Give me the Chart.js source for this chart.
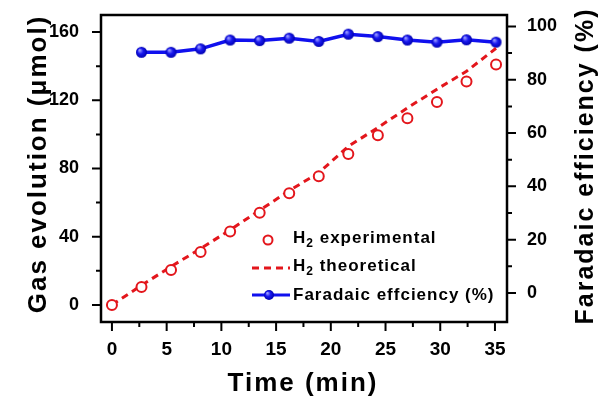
<!DOCTYPE html>
<html>
<head>
<meta charset="utf-8">
<script src="https://cdn.jsdelivr.net/npm/chart.js@4.4.1/dist/chart.umd.min.js"></script>
<style>
    body { margin: 0; background: #fff; }
    #wrap { width: 603px; height: 401px; }
</style>
</head>
<body>
<div id="wrap"><canvas id="c" width="603" height="401"></canvas></div>
<script>
// данные с картинки
const timeExp = [0, 2.7, 5.4, 8.1, 10.8, 13.5, 16.2, 18.9, 21.6, 24.3, 27, 29.7, 32.4, 35.1];
const h2Exp = [0, 10.5, 20.5, 31, 43, 54, 65.5, 75.5, 88.5, 99.5, 109.5, 119, 131, 141];
const h2Theo = [0, 11.5, 22.5, 33, 44, 55.5, 67, 77.5, 93, 104, 115.5, 126.5, 137, 150.5];
const timeFe = [2.7, 5.4, 8.1, 10.8, 13.5, 16.2, 18.9, 21.6, 24.3, 27, 29.7, 32.4, 35.1];
const feValues = [90.3, 90.3, 91.6, 94.9, 94.7, 95.6, 94.4, 97.1, 96.2, 94.9, 94.1, 95.0, 94.1];

const xTicks = [0, 5, 10, 15, 20, 25, 30, 35];
const xMinor = [2.5, 7.5, 12.5, 17.5, 22.5, 27.5, 32.5];
const leftTicks = [0, 40, 80, 120, 160];
const leftMinor = [20, 60, 100, 140];
const rightTicks = [0, 20, 40, 60, 80, 100];
const rightMinor = [10, 30, 50, 70, 90];

const labels = ["H₂ experimental", "H₂ theoretical", "Faradaic effciency (%)"];

const RED = "#e3161c";
const BLUE = "#1010ee";
const FONT = "'Liberation Sans', Arial, sans-serif";

const pts = (xs, ys) => xs.map((x, i) => ({x: x, y: ys[i]}));

// синий шарик для точек
const makeBall = (r) => {
    const c = document.createElement("canvas");
    c.width = c.height = r * 2 + 2;
    const g = c.getContext("2d");
    const m = r + 1;
    const grad = g.createRadialGradient(m - r * 0.35, m - r * 0.4, r * 0.1, m, m, r);
    grad.addColorStop(0, "#9a9aff");
    grad.addColorStop(0.45, "#1a1af0");
    grad.addColorStop(1, "#0000b0");
    g.fillStyle = grad;
    g.beginPath();
    g.arc(m, m, r, 0, Math.PI * 2);
    g.fill();
    return c;
};
const ball = makeBall(5.5);
const ballSmall = makeBall(5);

// подпись оси с разрядкой
const drawTitle = (ctx, text, x, y, rot, size) => {
    ctx.save();
    ctx.translate(x, y);
    ctx.rotate(rot);
    ctx.font = "bold " + size + "px " + FONT;
    ctx.letterSpacing = "2px";
    ctx.fillStyle = "#000";
    ctx.textAlign = "center";
    ctx.textBaseline = "alphabetic";
    ctx.fillText(text, 0, 0);
    ctx.restore();
};

// рамка, засечки, заголовки осей и легенда
const decor = {
    id: "decor",
    afterDraw(chart) {
        const ctx = chart.ctx;
        const a = chart.chartArea;
        const sx = chart.scales.x, sy = chart.scales.y, sy1 = chart.scales.y1;
        ctx.save();
        ctx.strokeStyle = "#000";
        ctx.lineWidth = 2.5;
        ctx.strokeRect(a.left, a.top, a.right - a.left, a.bottom - a.top);

        ctx.lineWidth = 2;
        ctx.beginPath();
        const tick = (x1, y1, x2, y2) => { ctx.moveTo(x1, y1); ctx.lineTo(x2, y2); };
        xTicks.forEach(v => { const p = sx.getPixelForValue(v); tick(p, a.bottom, p, a.bottom + 9); });
        xMinor.forEach(v => { const p = sx.getPixelForValue(v); tick(p, a.bottom, p, a.bottom + 5); });
        leftTicks.forEach(v => { const p = sy.getPixelForValue(v); tick(a.left, p, a.left - 9, p); });
        leftMinor.forEach(v => { const p = sy.getPixelForValue(v); tick(a.left, p, a.left - 5, p); });
        rightTicks.forEach(v => { const p = sy1.getPixelForValue(v); tick(a.right, p, a.right + 9, p); });
        rightMinor.forEach(v => { const p = sy1.getPixelForValue(v); tick(a.right, p, a.right + 5, p); });
        ctx.stroke();

        // заголовки осей
        drawTitle(ctx, sx.options.title.text, 303, 391, 0, 26);
        drawTitle(ctx, sy.options.title.text, 46, 164, -Math.PI / 2, 26);
        drawTitle(ctx, sy1.options.title.text, 593, 166, -Math.PI / 2, 25);

        // легенда
        const rows = [243, 271, 300];
        const sampleL = 252, sampleR = 290, textX = 293;
        chart.data.datasets.forEach((ds, i) => {
            const y = rows[i];
            if (i == 0) {
                ctx.beginPath();
                ctx.lineWidth = 2;
                ctx.strokeStyle = RED;
                ctx.fillStyle = "#fff";
                ctx.arc(268, y - 3, 4.5, 0, Math.PI * 2);
                ctx.fill();
                ctx.stroke();
            } else if (i == 1) {
                ctx.beginPath();
                ctx.lineWidth = 3;
                ctx.strokeStyle = RED;
                ctx.setLineDash([7, 5]);
                ctx.moveTo(sampleL, y - 3);
                ctx.lineTo(sampleR, y - 3);
                ctx.stroke();
                ctx.setLineDash([]);
            } else {
                ctx.beginPath();
                ctx.lineWidth = 3;
                ctx.strokeStyle = BLUE;
                ctx.moveTo(sampleL, y - 5);
                ctx.lineTo(sampleR, y - 5);
                ctx.stroke();
                ctx.drawImage(ballSmall, 269 - 6, y - 5 - 6);
            }
            // подпись с нижним индексом
            ctx.fillStyle = "#000";
            ctx.textBaseline = "alphabetic";
            ctx.textAlign = "left";
            ctx.letterSpacing = "1px";
            let x = textX;
            ds.label.split("₂").forEach((part, k) => {
                if (k > 0) {
                    ctx.font = "bold 12px " + FONT;
                    ctx.fillText("2", x, y + 4);
                    x += ctx.measureText("2").width;
                }
                ctx.font = "bold 17px " + FONT;
                ctx.fillText(part, x, y);
                x += ctx.measureText(part).width;
            });
            ctx.letterSpacing = "0px";
        });
        ctx.restore();
    }
};

const xFont = { family: FONT, size: 19, weight: "bold" };
const yFont = { family: FONT, size: 18, weight: "bold" };

const ctx = document.getElementById("c").getContext("2d");
new Chart(ctx, {
    type: "scatter",
    data: {
        datasets: [
            {
                label: labels[0],
                data: pts(timeExp, h2Exp),
                yAxisID: "y",
                showLine: false,
                pointRadius: 5,
                pointBorderWidth: 2,
                pointBorderColor: RED,
                pointBackgroundColor: "#fff"
            },
            {
                label: labels[1],
                data: pts(timeExp, h2Theo),
                yAxisID: "y",
                showLine: true,
                borderColor: RED,
                borderWidth: 3,
                borderDash: [7, 5],
                pointRadius: 0
            },
            {
                label: labels[2],
                data: pts(timeFe, feValues),
                yAxisID: "y1",
                showLine: true,
                borderColor: BLUE,
                borderWidth: 3.5,
                pointStyle: ball,
                pointRadius: 5.5
            }
        ]
    },
    options: {
        responsive: false,
        animation: false,
        layout: { padding: { top: 15, left: 0, right: 0, bottom: 0 } },
        plugins: {
            legend: { display: false },
            tooltip: { enabled: false }
        },
        scales: {
            x: {
                type: "linear",
                position: "bottom",
                min: -1,
                max: 36.1,
                afterBuildTicks: s => { s.ticks = xTicks.map(v => ({value: v})); },
                afterFit: s => { s.height = 79; s.paddingLeft = 0; s.paddingRight = 0; },
                grid: { display: false, drawTicks: false },
                border: { display: false },
                ticks: { color: "#000", padding: 16, maxRotation: 0, font: xFont },
                title: { display: false, text: "Time (min)" }
            },
            y: {
                position: "left",
                min: -10,
                max: 170,
                afterBuildTicks: s => { s.ticks = leftTicks.map(v => ({value: v})); },
                afterFit: s => { s.width = 101; s.paddingTop = 0; s.paddingBottom = 0; },
                grid: { display: false, drawTicks: false },
                border: { display: false },
                ticks: { color: "#000", padding: 22, font: yFont },
                title: { display: false, text: "Gas evolution (μmol)" }
            },
            y1: {
                position: "right",
                min: -10.9,
                max: 104.3,
                afterBuildTicks: s => { s.ticks = rightTicks.map(v => ({value: v})); },
                afterFit: s => { s.width = 96; s.paddingTop = 0; s.paddingBottom = 0; },
                grid: { display: false, drawTicks: false },
                border: { display: false },
                ticks: { color: "#000", padding: 20, font: yFont },
                title: { display: false, text: "Faradaic efficiency (%)" }
            }
        }
    },
    plugins: [decor]
});
</script>
</body>
</html>
